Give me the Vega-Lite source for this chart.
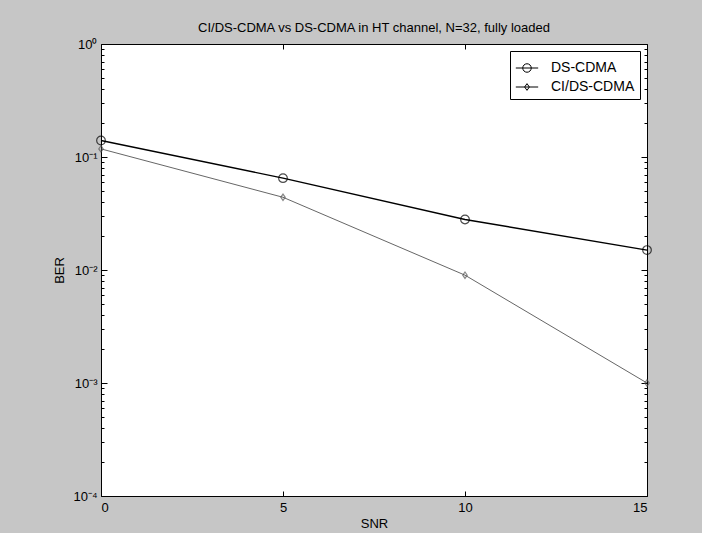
{
  "$schema": "https://vega.github.io/schema/vega-lite/v6.json",
  "width": 546,
  "height": 452,
  "autosize": "none",
  "padding": {"left": 101, "top": 44, "right": 55, "bottom": 37},
  "background": "#c6c6c6",
  "title": {"text": "CI/DS-CDMA vs DS-CDMA in HT channel, N=32, fully loaded", "font": "Liberation Sans", "fontSize": 13, "fontWeight": "normal", "color": "black", "frame": "group", "anchor": "middle", "offset": 3},
  "config": {
    "view": {"fill": "white", "stroke": "black", "strokeWidth": 1},
    "axis": {"domain": false, "grid": false, "tickColor": "black", "labelColor": "black", "titleColor": "black", "labelFont": "Liberation Sans", "titleFont": "Liberation Sans", "labelFontSize": 13, "titleFontSize": 13, "titleFontWeight": "normal"}
  },
  "data": {"values": [
    {"snr": 0, "ber": 0.14, "series": "DS-CDMA"},
    {"snr": 5, "ber": 0.065, "series": "DS-CDMA"},
    {"snr": 10, "ber": 0.028, "series": "DS-CDMA"},
    {"snr": 15, "ber": 0.015, "series": "DS-CDMA"},
    {"snr": 0, "ber": 0.118, "series": "CI/DS-CDMA"},
    {"snr": 5, "ber": 0.044, "series": "CI/DS-CDMA"},
    {"snr": 10, "ber": 0.009, "series": "CI/DS-CDMA"},
    {"snr": 15, "ber": 0.001, "series": "CI/DS-CDMA"}
  ]},
  "layer": [
    {
      "mark": {"type": "line"},
      "encoding": {
        "x": {"field": "snr", "type": "quantitative", "scale": {"domain": [0, 15], "nice": false, "zero": false}, "title": "SNR",
              "axis": {"orient": "bottom", "values": [0, 5, 10, 15], "tickSize": -5, "labelPadding": 10, "titlePadding": 3}},
        "y": {"field": "ber", "type": "quantitative", "scale": {"type": "log", "domain": [0.0001, 1], "nice": false}, "title": "BER",
              "axis": {"orient": "left", "values": [0.0001, 0.0002, 0.0003, 0.0004, 0.0005, 0.0006, 0.0007, 0.0008, 0.0009, 0.001, 0.002, 0.003, 0.004, 0.005, 0.006, 0.007, 0.008, 0.009, 0.01, 0.02, 0.03, 0.04, 0.05, 0.06, 0.07, 0.08, 0.09, 0.1, 0.2, 0.3, 0.4, 0.5, 0.6, 0.7, 0.8, 0.9, 1],
                       "tickSize": {"condition": {"test": "abs(log(datum.value)/LN10 - round(log(datum.value)/LN10)) < 0.001", "value": -6}, "value": -3},
                       "labelExpr": "abs(log(datum.value)/LN10 - round(log(datum.value)/LN10)) < 0.001 ? '10' + ({'0':'⁰','-1':'⁻¹','-2':'⁻²','-3':'⁻³','-4':'⁻⁴'})[''+round(log(datum.value)/LN10)] : ''",
                       "labelPadding": 10, "titlePadding": 6, "labelOverlap": false}},
        "color": {"field": "series", "type": "nominal", "scale": {"domain": ["DS-CDMA", "CI/DS-CDMA"], "range": ["#000000", "#555555"]}, "legend": null},
        "strokeWidth": {"field": "series", "type": "nominal", "scale": {"domain": ["DS-CDMA", "CI/DS-CDMA"], "range": [1.4, 0.9]}, "legend": null}
      }
    },
    {
      "mark": {"type": "point", "filled": false, "strokeWidth": 1.2},
      "encoding": {
        "x": {"field": "snr", "type": "quantitative", "axis": null},
        "y": {"field": "ber", "type": "quantitative", "axis": null},
        "shape": {"field": "series", "type": "nominal", "scale": {"domain": ["DS-CDMA", "CI/DS-CDMA"], "range": ["circle", "M0,-1L0.7,0L0,1L-0.7,0Z"]}, "legend": null},
        "size": {"field": "series", "type": "nominal", "scale": {"domain": ["DS-CDMA", "CI/DS-CDMA"], "range": [75, 40]}, "legend": null},
        "color": {"field": "series", "type": "nominal", "legend": null}
      }
    },
    {
      "mark": {"type": "point", "opacity": 0},
      "encoding": {
        "x": {"field": "snr", "type": "quantitative", "title": null,
              "axis": {"orient": "top", "values": [0, 5, 10, 15], "tickSize": -5, "labels": false}},
        "y": {"field": "ber", "type": "quantitative", "title": null,
              "axis": {"orient": "right", "values": [0.0001, 0.0002, 0.0003, 0.0004, 0.0005, 0.0006, 0.0007, 0.0008, 0.0009, 0.001, 0.002, 0.003, 0.004, 0.005, 0.006, 0.007, 0.008, 0.009, 0.01, 0.02, 0.03, 0.04, 0.05, 0.06, 0.07, 0.08, 0.09, 0.1, 0.2, 0.3, 0.4, 0.5, 0.6, 0.7, 0.8, 0.9, 1],
                       "tickSize": {"condition": {"test": "abs(log(datum.value)/LN10 - round(log(datum.value)/LN10)) < 0.001", "value": -6}, "value": -3},
                       "labels": false}}
      }
    },
    {
      "mark": {"type": "point", "size": 0, "strokeWidth": 1},
      "encoding": {
        "x": {"field": "snr", "type": "quantitative", "axis": null},
        "y": {"field": "ber", "type": "quantitative", "axis": null},
        "shape": {"field": "series", "type": "nominal", "title": null,
                  "scale": {"domain": ["DS-CDMA", "CI/DS-CDMA"], "range": ["M-1,0L1,0M0.38,0A0.38,0.38,0,1,1,-0.38,0A0.38,0.38,0,1,1,0.38,0", "M-1,0L1,0M0,-0.3L0.21,0L0,0.3L-0.21,0Z"]},
                  "legend": {"orient": "top-right", "offset": 7, "fillColor": "white", "strokeColor": "black", "padding": 5, "symbolSize": 500, "symbolStrokeColor": "black", "symbolFillColor": "transparent", "symbolStrokeWidth": 1, "symbolOpacity": 1, "labelFont": "Liberation Sans", "labelFontSize": 14, "labelColor": "black", "labelOffset": 12, "rowPadding": 0}}
      }
    }
  ],
  "resolve": {"axis": {"x": "independent", "y": "independent"}, "scale": {"shape": "independent", "size": "independent"}}
}
